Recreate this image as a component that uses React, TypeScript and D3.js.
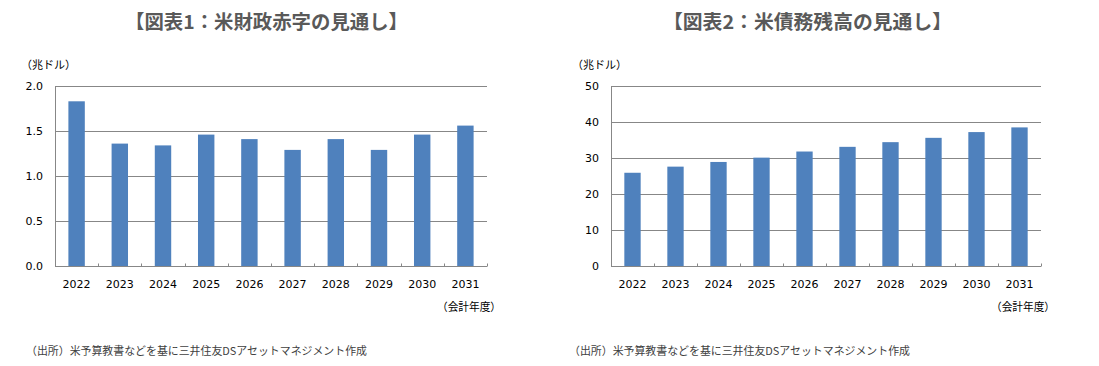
import React, { useRef, useEffect } from 'react';
import * as d3 from 'd3';

// 会計年度
const years = ['2022', '2023', '2024', '2025', '2026', '2027', '2028', '2029', '2030', '2031'];
// 図表1：財政赤字（兆ドル）
const deficit = [1.83, 1.36, 1.34, 1.46, 1.41, 1.29, 1.41, 1.29, 1.46, 1.56];
// 図表2：債務残高（兆ドル）
const debt = [25.9, 27.6, 28.9, 30.1, 31.8, 33.1, 34.4, 35.6, 37.2, 38.5];

const ticks1 = [0, 0.5, 1.0, 1.5, 2.0];
const ticks2 = [0, 10, 20, 30, 40, 50];

const BAR = '#4f81bd';
const GRID = '#878787';
const CJK = '"Noto Sans CJK JP", sans-serif';
const NUM = '"DejaVu Sans", sans-serif';

const App = () => {
  const svgRef = useRef(null);

  useEffect(() => {
    const svg = d3.select(svgRef.current);
    svg.selectAll('*').remove();

    const drawPanel = (opts) => {
      const { left, right, top, bottom, values, ticks, fmt, title, titleX, titleW, labelX, srcX } = opts;
      const g = svg.append('g');

      // タイトル
      g.append('text')
        .attr('x', titleX)
        .attr('y', 29)
        .attr('textLength', titleW)
        .attr('lengthAdjust', 'spacingAndGlyphs')
        .style('font-family', CJK)
        .style('font-size', '19px')
        .style('font-weight', 'bold')
        .style('fill', '#595959')
        .text(title);

      const x = d3.scaleBand()
        .domain(years)
        .range([left, right])
        .paddingInner(0.62)
        .paddingOuter(0.31);

      const y = d3.scaleLinear()
        .domain([0, ticks[ticks.length - 1]])
        .range([bottom, top]);

      // グリッド線
      g.selectAll('.grid')
        .data(ticks.filter(t => t > 0))
        .enter()
        .append('line')
        .attr('x1', left)
        .attr('x2', right)
        .attr('y1', d => Math.round(y(d)) + 0.5)
        .attr('y2', d => Math.round(y(d)) + 0.5)
        .attr('stroke', GRID)
        .attr('stroke-width', 1);

      // Y軸ラベル
      g.selectAll('.ytick')
        .data(ticks)
        .enter()
        .append('text')
        .attr('x', left - 12)
        .attr('y', d => y(d) + 4)
        .attr('text-anchor', 'end')
        .style('font-family', NUM)
        .style('font-size', '11px')
        .style('fill', '#000')
        .text(d => fmt(d));

      // 単位
      g.append('text')
        .attr('x', labelX)
        .attr('y', 69)
        .style('font-family', CJK)
        .style('font-size', '11px')
        .style('fill', '#000')
        .text('（兆ドル）');

      // バー
      g.selectAll('.bar')
        .data(values)
        .enter()
        .append('rect')
        .attr('x', (d, i) => x(years[i]))
        .attr('y', d => y(d))
        .attr('width', x.bandwidth())
        .attr('height', d => y(0) - y(d))
        .attr('fill', BAR);

      // 軸線
      const yb = Math.round(y(0)) + 0.5;
      g.append('line')
        .attr('x1', left + 0.5).attr('x2', left + 0.5)
        .attr('y1', top).attr('y2', yb)
        .attr('stroke', GRID);
      g.append('line')
        .attr('x1', left).attr('x2', right)
        .attr('y1', yb).attr('y2', yb)
        .attr('stroke', GRID);

      // 目盛り（区切り）
      const step = x.step();
      const boundaries = d3.range(1, years.length + 1).map(i => Math.round(left + i * step) + 0.5);
      g.selectAll('.xtick')
        .data(boundaries)
        .enter()
        .append('line')
        .attr('x1', d => d).attr('x2', d => d)
        .attr('y1', yb - 3).attr('y2', yb)
        .attr('stroke', GRID);

      // X軸ラベル
      g.selectAll('.xlabel')
        .data(years)
        .enter()
        .append('text')
        .attr('x', d => x(d) + x.bandwidth() / 2)
        .attr('y', 288)
        .attr('text-anchor', 'middle')
        .style('font-family', NUM)
        .style('font-size', '11px')
        .style('fill', '#000')
        .text(d => d);

      g.append('text')
        .attr('x', right - 50)
        .attr('y', 311)
        .attr('textLength', 64)
        .attr('lengthAdjust', 'spacingAndGlyphs')
        .style('font-family', CJK)
        .style('font-size', '11px')
        .style('fill', '#000')
        .text('（会計年度）');

      // 出所
      g.append('text')
        .attr('x', srcX)
        .attr('y', 355)
        .attr('textLength', 341)
        .attr('lengthAdjust', 'spacingAndGlyphs')
        .style('font-family', CJK)
        .style('font-size', '11px')
        .style('fill', '#404040')
        .text('（出所）米予算教書などを基に三井住友DSアセットマネジメント作成');
    };

    drawPanel({
      left: 55, right: 487, top: 86, bottom: 266,
      values: deficit, ticks: ticks1, fmt: d3.format('.1f'),
      title: '【図表1：米財政赤字の見通し】', titleX: 125, titleW: 283, labelX: 21, srcX: 26,
    });

    drawPanel({
      left: 611, right: 1041, top: 86, bottom: 266,
      values: debt, ticks: ticks2, fmt: d3.format('d'),
      title: '【図表2：米債務残高の見通し】', titleX: 663, titleW: 289, labelX: 572, srcX: 569,
    });
  }, []);

  return (
    <svg
      ref={svgRef}
      width={1099}
      height={366}
      style={{ position: 'absolute', left: 0, top: 0, background: '#fff' }}
    />
  );
};

export default App;
